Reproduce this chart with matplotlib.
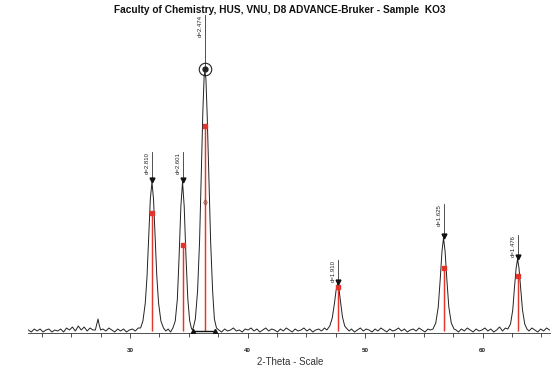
import matplotlib
matplotlib.use("Agg")
import matplotlib.pyplot as plt

# ---- scan profile (2-theta in degrees, intensity in arbitrary units) ----
two_theta = [
    21.35, 21.60, 21.85, 22.10, 22.35, 22.60, 22.85, 23.10, 23.35, 23.60, 23.85, 24.10,
    24.35, 24.60, 24.85, 25.10, 25.35, 25.60, 25.85, 26.10, 26.35, 26.60, 26.85,
    27.05, 27.18, 27.28, 27.38, 27.50,
    27.70, 27.95, 28.20, 28.45, 28.70, 28.95, 29.20, 29.45, 29.70, 29.95, 30.20, 30.45, 30.70,
    30.90, 31.10, 31.30, 31.45, 31.60, 31.73, 31.87, 32.00, 32.13, 32.28, 32.43, 32.63, 32.85,
    33.05, 33.25, 33.45,
    33.65, 33.85, 34.03, 34.18, 34.33, 34.47, 34.61, 34.76, 34.92, 35.08, 35.22,
    35.30,
    35.38, 35.56, 35.75, 35.92, 36.07, 36.20, 36.31, 36.38, 36.46, 36.57, 36.71, 36.86, 37.03, 37.18, 37.36,
    37.55, 37.80, 38.05, 38.30, 38.55, 38.80, 39.05, 39.30, 39.55, 39.80, 40.05, 40.30, 40.55,
    40.80, 41.05, 41.30, 41.55, 41.80, 42.05, 42.30, 42.55, 42.80, 43.05, 43.30, 43.55, 43.80,
    44.05, 44.30, 44.55, 44.80, 45.05, 45.30, 45.55, 45.80, 46.05, 46.30, 46.55,
    46.75, 47.00, 47.21, 47.39, 47.54, 47.66, 47.78, 47.92, 48.08, 48.27, 48.48,
    48.65, 48.85, 49.10, 49.35, 49.60, 49.85, 50.10, 50.35, 50.60, 50.85, 51.10, 51.35, 51.60,
    51.85, 52.10, 52.35, 52.60, 52.85, 53.10, 53.35, 53.60, 53.85, 54.10, 54.35, 54.60, 54.85,
    55.10, 55.35, 55.55,
    55.78, 56.02, 56.23, 56.40, 56.55, 56.68, 56.81, 56.96, 57.13, 57.34, 57.57,
    57.75, 57.95, 58.20, 58.45, 58.70, 58.95, 59.20, 59.45, 59.70, 59.95, 60.20, 60.45, 60.70,
    60.95, 61.20, 61.45, 61.70, 61.95,
    62.15, 62.38, 62.57, 62.72, 62.86, 62.98, 63.10, 63.24, 63.40, 63.59, 63.78,
    63.95, 64.20, 64.45, 64.70, 64.95, 65.20, 65.45, 65.70,
]
counts = [
    1, -1, 2, 0, 2, -1, 1, 2, -1, 1, 0, 2,
    -1, 3, 1, 4, 0, 5, 1, 4, 0, 3, 1,
    1, 7, 12, 6, 1,
    2, 0, 3, 1, -1, 2, 0, 2, -1, 1, 2, 0, 3,
    3, 10, 28, 55, 95, 132, 149, 132, 95, 55, 28, 10, 3,
    0, 2, -1,
    3, 10, 32, 75, 125, 149, 125, 75, 32, 10, 3,
    1,
    3, 12, 40, 90, 160, 220, 255, 260, 252, 215, 155, 90, 40, 12, 3,
    1, -1, 2, 0, 1, 3, 0, 1, -1, 2, 1, 3, 0,
    2, -1, 1, 3, 0, 2, 1, -1, 2, 0, 3, 1, -1,
    2, 0, 1, 3, 0, 2, -1, 1, 2, 0, 3,
    1, 5, 13, 27, 41, 47, 42, 29, 14, 5, 2,
    0, 2, -1, 1, 3, 0, 2, 1, -1, 2, 0, 3, 1,
    -1, 2, 0, 1, 3, 0, 2, -1, 1, 2, 0, 3, 1,
    -1, 2, 1,
    2, 8, 24, 52, 80, 93, 80, 52, 24, 8, 2,
    1, -1, 2, 0, 3, 1, -1, 2, 0, 1, 3, 0, 2,
    -1, 1, 4, 0, 3,
    2, 7, 21, 44, 63, 72, 63, 44, 21, 7, 2,
    0, 3, 1, -1, 2, 0, 3, 1,
]

# ---- identified peaks ----
peak_2theta = [31.87, 34.47, 36.38, 47.66, 56.68, 62.98]
peak_top = [149, 149, 260, 47, 93, 72]
d_labels = ["d=2.810", "d=2.601", "d=2.474", "d=1.910", "d=1.625", "d=1.476"]
ref_height = [118, 86, 205, 44, 63, 55]
stick_len = [30, 30, 56, 24, 34, 24]
range_marks = [35.36, 37.23]

tick_major = [30, 40, 50, 60]
tick_minor = [22.5, 25, 27.5, 32.5, 35, 37.5, 42.5, 45, 47.5, 52.5, 55, 57.5, 62.5, 65]

W, H = 552, 368
fig = plt.figure(figsize=(W / 100, H / 100), dpi=100)
ax = fig.add_axes([28 / W, (H - 333) / H, 522 / W, 293 / H])
ax.set_xlim(21.32, 65.74)
ax.set_ylim(-2, 291)

# red reference sticks
for x, h in zip(peak_2theta, ref_height):
    ax.plot([x, x], [0, h], color="#f8cfcb", lw=2.2, solid_capstyle="butt", zorder=1)
    ax.plot([x, x], [0, h], color="#e0342c", lw=0.7, solid_capstyle="butt", zorder=3)
    ax.plot([x], [h], marker="s", ms=2.8, color="#e0342c", mec="#e0342c", zorder=4)

ax.plot(two_theta, counts, color="#222222", lw=0.7, zorder=2)

# peak labels
for i, (x, top, lab, L) in enumerate(zip(peak_2theta, peak_top, d_labels, stick_len)):
    ax.plot([x, x], [top + 2, top + L], color="#333333", lw=0.6, clip_on=False, zorder=5)
    if i == 2:
        ax.plot([x], [top + 2], marker="o", ms=9, mfc="none", mec="#222222", mew=0.8,
                clip_on=False, zorder=6)
        ax.plot([x], [top + 2], marker="o", ms=3.5, color="#222222", clip_on=False, zorder=6)
    else:
        ax.plot([x], [top + 2], marker="v", ms=3.5, color="#111111", clip_on=False, zorder=6)
    ax.annotate(lab, xy=(x, top + L), xytext=(-1.5, 0), textcoords="offset points",
                rotation=90, ha="right", va="top", fontsize=4.3, color="#222222",
                annotation_clip=False, family="Liberation Sans")

# small marker on the strongest peak and its integration range
ax.plot([36.36], [129], marker="d", ms=3, mfc="none", mec="#9a4a40", mew=0.6, zorder=6)
ax.plot(range_marks, [0, 0], color="#111111", lw=1.0, zorder=5)
ax.plot(range_marks, [0, 0], ls="none", marker="^", ms=3, color="#111111", zorder=6)

for s in ["top", "left", "right"]:
    ax.spines[s].set_visible(False)
ax.spines["bottom"].set_linewidth(0.6)
ax.spines["bottom"].set_color("#333333")
ax.set_yticks([])
ax.set_xticks(tick_major)
ax.set_xticklabels([str(t) for t in tick_major], fontsize=4.5, fontweight="bold",
                   family="Liberation Sans", color="#222222")
ax.set_xticks(tick_minor, minor=True)
ax.tick_params(axis="x", which="major", direction="out", length=3.5, width=0.6, pad=7,
               color="#333333")
ax.tick_params(axis="x", which="minor", direction="out", length=3, width=0.6, color="#333333")

fig.text(290 / W, 1 - 362 / H, "2-Theta - Scale", ha="center", va="center", fontsize=7,
         family="Liberation Sans", color="#333333")
fig.text(280 / W, 1 - 10 / H, "Faculty of Chemistry, HUS, VNU, D8 ADVANCE-Bruker - Sample  KO3",
         ha="center", va="center", fontsize=7.3, fontweight="bold", family="Liberation Sans",
         color="#111111")

fig.savefig("out.png", dpi=100)
